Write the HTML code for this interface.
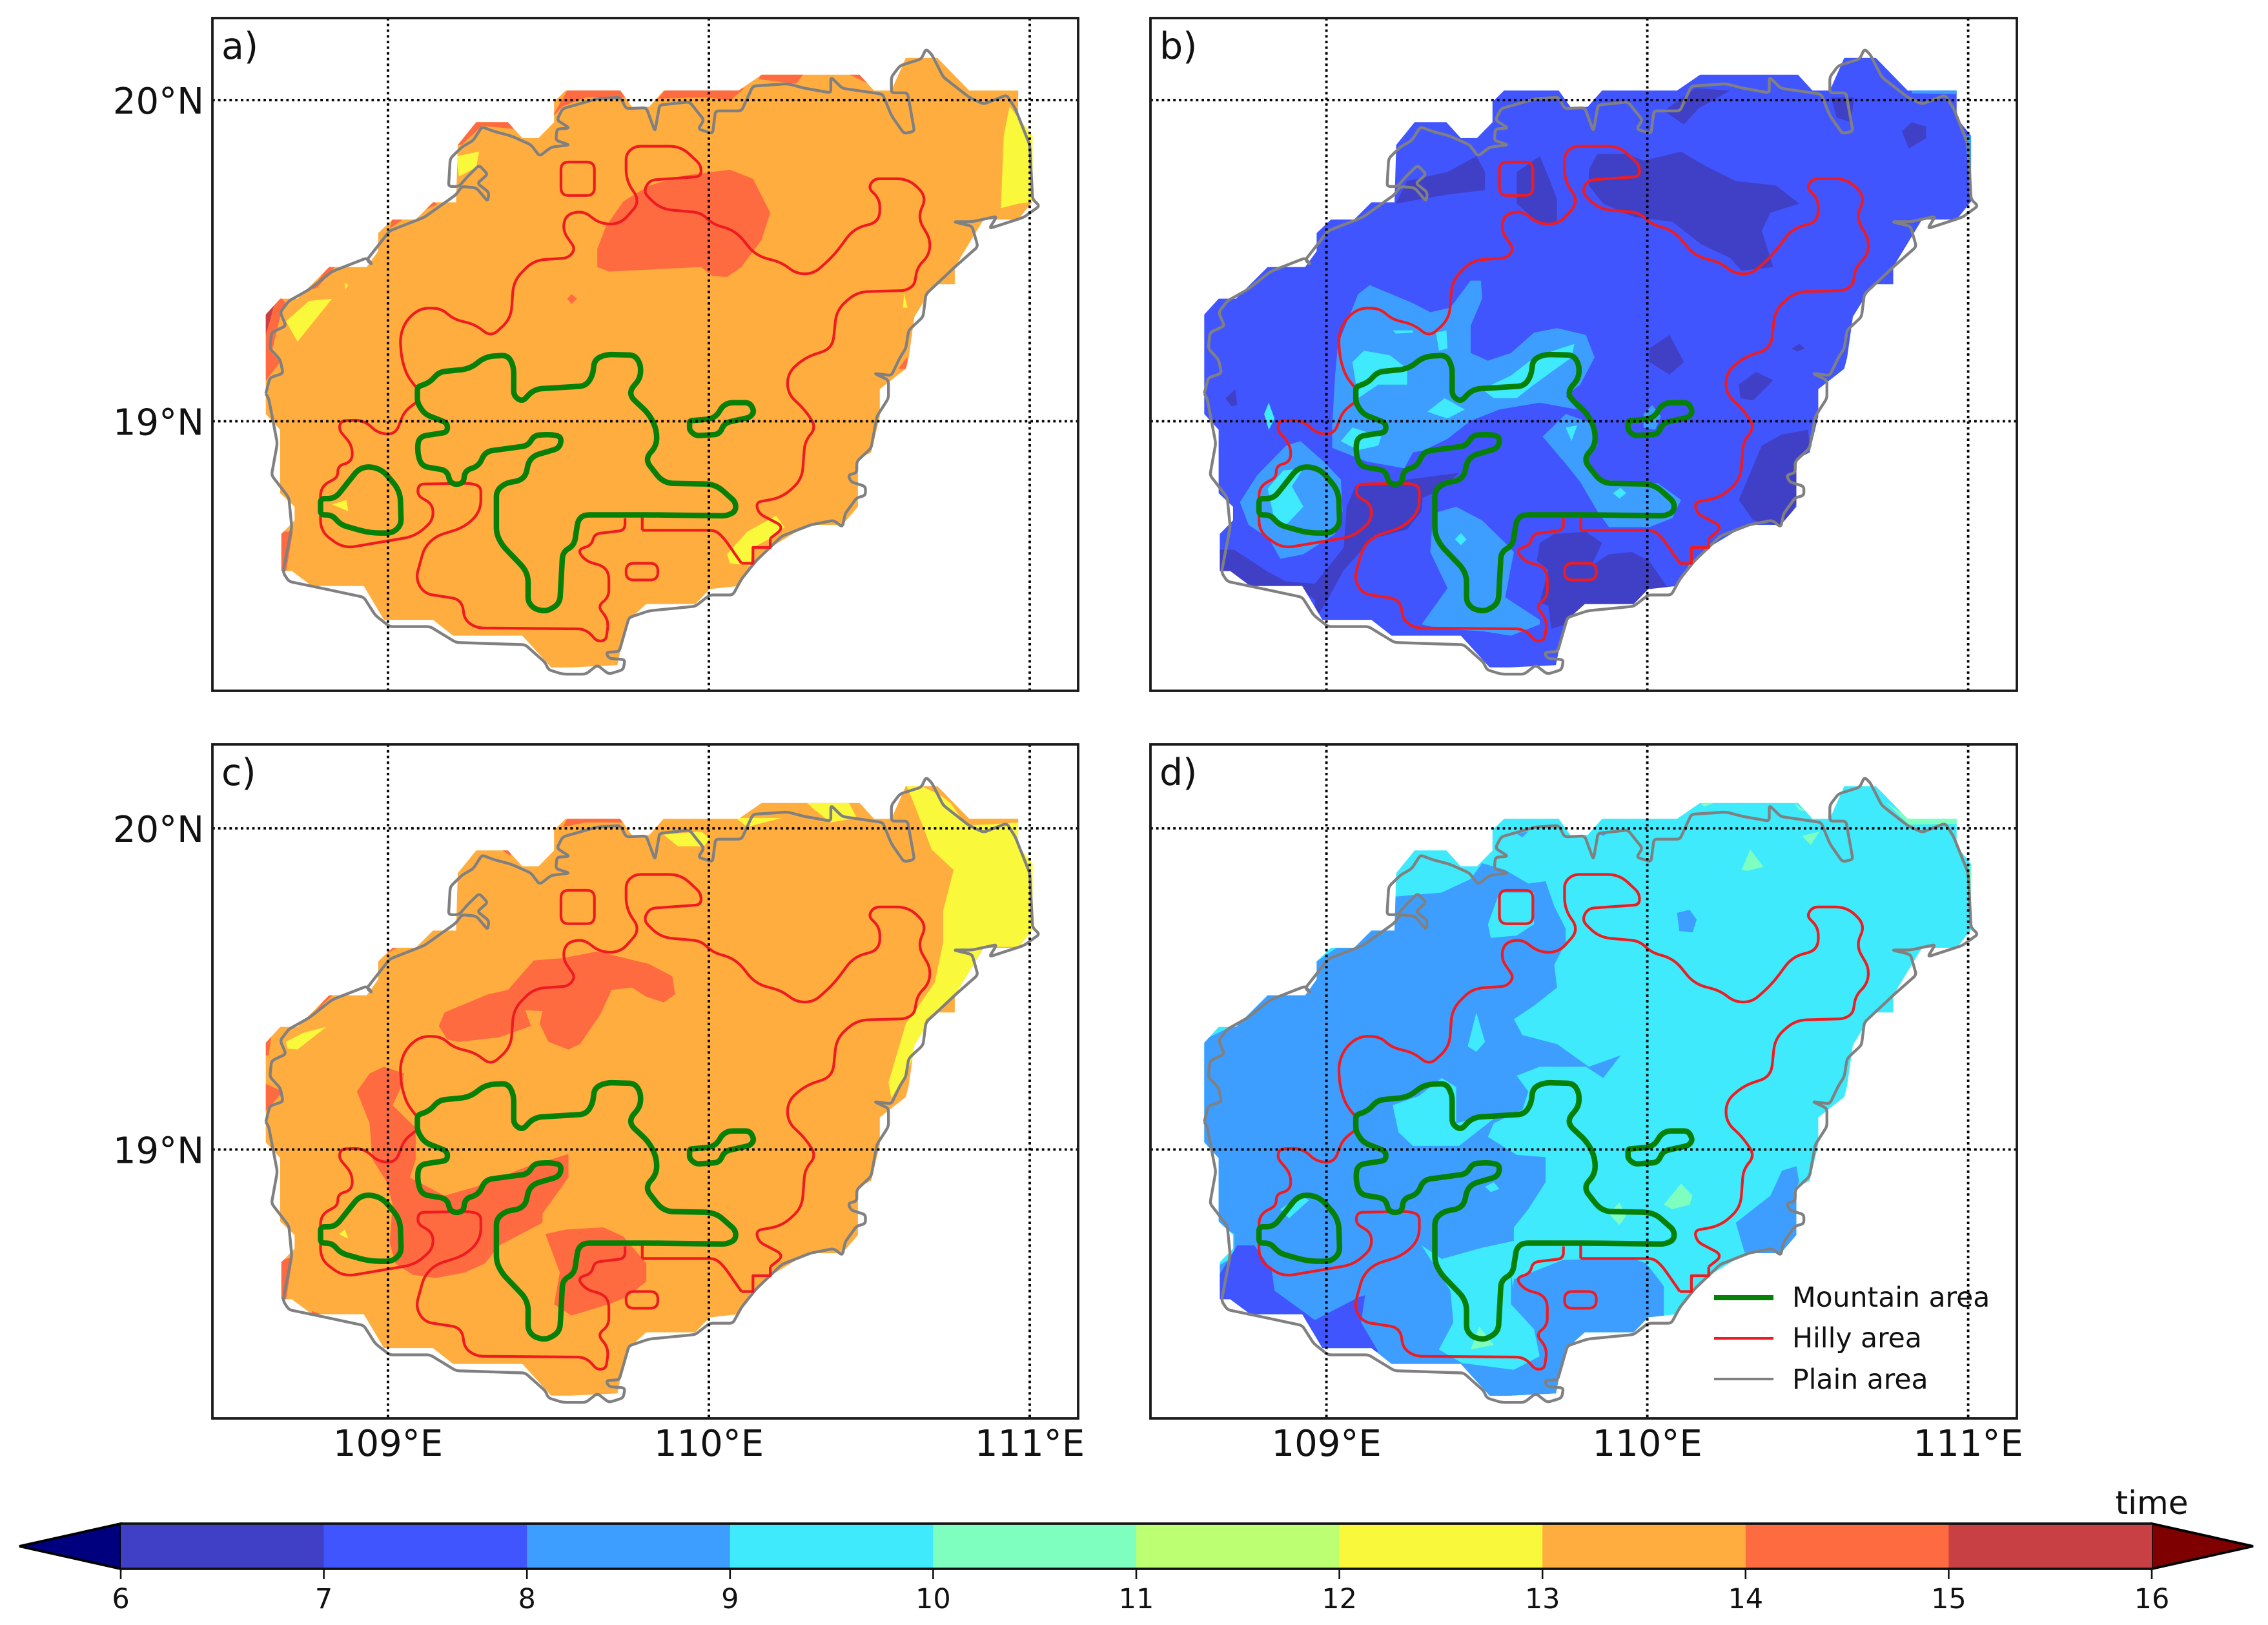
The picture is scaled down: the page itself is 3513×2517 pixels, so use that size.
<!DOCTYPE html>
<html lang="en">
<head>
<meta charset="utf-8">
<title>Hainan time maps</title>
<style>
html,body{margin:0;padding:0;background:#fff;}
svg{display:block;}
text{font-family:"DejaVu Sans","Liberation Sans",sans-serif;fill:#111;}
</style>
</head>
<body>
<svg id="figure" xmlns="http://www.w3.org/2000/svg" width="3513" height="2517" viewBox="0 0 3513 2517">
  <g id="panels"></g>
  <g id="colorbar"></g>
  <g id="legend">
    <line x1="2655" x2="2747" y1="2010" y2="2010" stroke="#078007" stroke-width="8"/>
    <text x="2776" y="2024" font-size="42.5">Mountain area</text>
    <line x1="2655" x2="2747" y1="2073" y2="2073" stroke="#ee1c20" stroke-width="4"/>
    <text x="2776" y="2087" font-size="42.5">Hilly area</text>
    <line x1="2655" x2="2747" y1="2136" y2="2136" stroke="#808080" stroke-width="4"/>
    <text x="2776" y="2151" font-size="42.5">Plain area</text>
  </g>
</svg>
<script>
/* ---------- axis data ---------- */
const lonTicks = [109, 110, 111];
const latTicks = [19, 20];
const lonTickLabels = ['109°E', '110°E', '111°E'];
const latTickLabels = ['19°N', '20°N'];

/* ---------- colour scale ---------- */
const levels = [6, 7, 8, 9, 10, 11, 12, 13, 14, 15, 16];
const levelColors = ['#4040C6', '#4155FF', '#3E9EFF', '#3EEAFB', '#7FFFBF', '#BDFF73', '#FAF83A', '#FFAD3F', '#FF6B40', '#C84043'];
const underColor = '#00007F';
const overColor = '#7F0000';
const colorbarTitle = 'time';

/* ---------- digitised outlines: map grid cells (556.5 cells/deg lon, 710 cells/deg lat) ---------- */
const landOutline = [[645,200],[740,200],[760,236],[790,236],[815,200],[945,200],[985,165],[1155,165],[1180,200],[1210,200],[1235,128],[1290,128],[1345,200],[1430,200],[1430,260],[1455,300],[1455,445],[1430,485],[1370,485],[1320,590],[1320,628],[1285,628],[1250,700],[1240,790],[1235,815],[1190,860],[1190,920],[1175,1000],[1152,1015],[1152,1120],[1125,1160],[1065,1160],[1000,1210],[965,1250],[945,1295],[895,1302],[870,1335],[785,1335],[750,1375],[735,1470],[655,1475],[620,1475],[570,1405],[450,1405],[415,1370],[330,1370],[295,1295],[205,1295],[170,1262],[152,1262],[152,1180],[175,1150],[175,1120],[150,1090],[150,950],[125,915],[125,695],[150,660],[180,660],[235,590],[300,590],[320,555],[320,515],[345,485],[385,485],[415,447],[455,447],[458,320],[490,270],[545,270],[570,305],[598,305],[625,270],[625,225]];
const coastOutline = [[125,870],[132,835],[155,825],[150,795],[132,770],[135,735],[160,720],[150,690],[165,665],[200,640],[240,600],[300,570],[310,585],[300,575],[340,510],[400,480],[455,430],[465,412],[490,415],[510,445],[512,425],[492,405],[510,385],[495,365],[475,390],[460,412],[442,412],[445,350],[465,325],[485,310],[500,280],[520,290],[550,300],[585,320],[600,345],[620,325],[652,320],[628,310],[630,285],[652,283],[630,265],[640,240],[700,218],[740,215],[750,240],[785,238],[800,290],[808,232],[860,225],[885,265],[875,285],[900,295],[905,245],[950,245],[970,190],[1030,185],[1060,195],[1105,205],[1105,170],[1125,195],[1195,208],[1210,255],[1232,295],[1250,290],[1238,205],[1210,205],[1210,170],[1225,145],[1262,130],[1270,108],[1280,120],[1300,170],[1345,215],[1370,230],[1410,210],[1425,240],[1450,320],[1455,440],[1467,455],[1440,480],[1380,505],[1393,478],[1350,490],[1318,490],[1350,500],[1360,545],[1320,590],[1270,650],[1265,700],[1240,730],[1235,770],[1225,790],[1210,830],[1180,825],[1205,840],[1205,880],[1185,920],[1175,990],[1150,1020],[1150,1045],[1135,1050],[1140,1065],[1165,1075],[1165,1095],[1150,1100],[1130,1135],[1125,1165],[1110,1150],[1070,1160],[1020,1185],[975,1240],[950,1280],[935,1315],[895,1315],[870,1340],[790,1350],[755,1365],[738,1440],[715,1442],[720,1455],[748,1458],[745,1480],[720,1490],[700,1470],[680,1490],[640,1490],[615,1480],[610,1465],[575,1425],[455,1420],[410,1385],[340,1385],[315,1360],[295,1320],[240,1305],[165,1285],[155,1265],[170,1165],[165,1100],[135,1050],[145,980],[130,880],[125,870]];
const hillyMain = [[385,855],[370,830],[360,790],[358,740],[370,705],[395,680],[430,682],[450,705],[490,718],[515,745],[550,705],[555,620],[590,575],[650,570],[662,550],[640,510],[645,475],[675,465],[705,495],[740,495],[775,445],[750,400],[750,340],[765,323],[845,323],[880,365],[880,390],[790,398],[780,425],[810,462],[880,470],[900,495],[940,510],[975,565],[1020,580],[1045,605],[1075,605],[1110,565],[1145,505],[1190,490],[1190,440],[1170,415],[1180,395],[1240,395],[1272,435],[1255,480],[1278,530],[1275,565],[1255,590],[1250,630],[1235,642],[1150,645],[1115,685],[1108,770],[1060,790],[1030,825],[1030,870],[1060,905],[1080,945],[1060,975],[1055,1060],[1020,1100],[975,1110],[980,1135],[1025,1165],[1000,1190]];
const hillyStair = [[1000,1190],[1000,1210],[970,1210],[970,1245],[950,1245]];
const hillyEast = [[950,1245],[920,1190],[905,1172],[778,1172]];
const hillyStubA = [[778,1172],[778,1140]];
const hillySouth = [[748,1145],[748,1172],[695,1180],[690,1205],[665,1215],[680,1240],[720,1255],[720,1320],[700,1340],[720,1370],[715,1415],[700,1418],[680,1390],[490,1388],[470,1370],[465,1325],[400,1312],[385,1280],[400,1210],[420,1185],[470,1165],[498,1130],[498,1075],[480,1068],[390,1070],[388,1095],[415,1115],[415,1150],[385,1185],[260,1212],[220,1175],[220,1075],[250,1055],[250,1030],[275,1020],[275,985],[252,950],[255,930],[295,928],[320,958],[350,960],[365,910],[385,890]];
const hillySquare = [[666,358],[695,358],[695,432],[637,432],[637,358],[666,358]];
const hillySmall = [[778,1245],[805,1245],[805,1282],[750,1282],[750,1245],[778,1245]];
const mountainMain = [[388,870],[388,855],[410,845],[425,822],[480,815],[505,788],[545,785],[555,810],[555,875],[570,888],[590,860],[680,853],[692,830],[695,795],[715,783],[765,785],[775,805],[775,835],[752,870],[790,915],[803,950],[803,985],[782,1015],[815,1068],[905,1070],[940,1110],[940,1130],[925,1140],[800,1138],[668,1138],[660,1205],[640,1220],[635,1335],[610,1352],[590,1345],[580,1330],[580,1265],[535,1205],[525,1180],[525,1085],[540,1068],[575,1060],[582,1010],[635,990],[638,965],[620,960],[590,962],[580,985],[505,998],[495,1030],[470,1040],[468,1070],[445,1070],[440,1040],[395,1030],[388,1000],[390,965],[440,955],[440,935],[400,915],[388,890],[388,870]];
const mountainWest = [[220,1120],[220,1102],[245,1102],[265,1070],[290,1030],[325,1035],[358,1085],[360,1160],[345,1178],[305,1178],[255,1160],[240,1138],[220,1138],[220,1120]];
const mountainEast = [[860,940],[860,930],[905,925],[920,890],[965,890],[972,910],[965,922],[920,935],[912,960],[870,963],[860,950],[860,940]];

/* ---------- filled contour zones per panel: band value + digitised ring ---------- */
const zonesA = [
  {band:14, ring:[[700,590],[700,550],[715,500],[745,445],[790,410],[850,388],[930,375],[970,395],[1000,470],[985,530],[950,590],[925,612],[900,610],[880,590],[800,595],[720,600]]},
  {band:14, ring:[[620,262],[650,195],[740,195],[755,215],[680,215],[640,235]]},
  {band:14, ring:[[805,218],[820,195],[955,195],[930,222],[890,215]]},
  {band:14, ring:[[980,175],[985,160],[1060,160],[1045,185]]},
  {band:14, ring:[[1130,160],[1160,160],[1170,185]]},
  {band:14, ring:[[455,320],[490,265],[545,265],[555,285],[500,278],[465,320]]},
  {band:14, ring:[[120,850],[120,695],[150,655],[160,670],[150,700],[135,780],[150,800]]},
  {band:15, ring:[[120,760],[120,695],[140,670],[132,710]]},
  {band:14, ring:[[205,640],[235,585],[248,585],[215,635]]},
  {band:14, ring:[[340,505],[345,480],[368,480]]},
  {band:14, ring:[[390,470],[415,442],[422,452]]},
  {band:14, ring:[[148,1265],[148,1175],[172,1175],[160,1265]]},
  {band:14, ring:[[1238,815],[1238,788],[1222,815]]},
  {band:14, ring:[[648,660],[655,650],[665,660],[655,672]]},
  {band:12, ring:[[455,345],[495,335],[490,370],[460,390]]},
  {band:12, ring:[[160,710],[200,665],[240,660],[180,755]]},
  {band:12, ring:[[1400,460],[1405,300],[1415,235],[1430,260],[1460,300],[1460,445],[1430,450]]},
  {band:12, ring:[[925,1225],[960,1175],[1010,1140],[1025,1165],[1000,1190],[970,1210],[965,1250],[930,1245]]},
  {band:12, ring:[[240,1115],[265,1105],[268,1130]]},
  {band:12, ring:[[1232,648],[1238,680],[1230,680]]},
  {band:12, ring:[[262,625],[268,630],[263,640]]}
];
const zonesB = [
  {band:8, ring:[[340,940],[345,830],[350,760],[385,650],[405,630],[480,670],[510,690],[545,680],[580,620],[598,620],[600,660],[580,720],[580,780],[610,797],[650,780],[690,735],[730,725],[780,740],[795,790],[770,850],[745,875],[765,905],[700,890],[630,905],[580,930],[540,970],[500,995],[480,1000],[465,1035],[400,1020],[380,1010],[340,990]]},
  {band:8, ring:[[705,965],[745,915],[790,935],[800,985],[775,1020],[800,1060],[905,1068],[945,1105],[930,1145],[890,1165],[820,1165],[800,1130],[770,1065],[745,1025]]},
  {band:8, ring:[[180,1110],[210,1050],[260,985],[285,975],[325,1020],[355,1060],[358,1130],[345,1180],[290,1225],[250,1235],[230,1190],[195,1160]]},
  {band:8, ring:[[495,1380],[540,1300],[510,1220],[515,1135],[555,1120],[600,1150],[640,1200],[655,1220],[640,1320],[700,1370],[700,1380],[650,1405],[600,1395],[530,1390]]},
  {band:8, ring:[[880,915],[895,895],[910,920],[900,950],[880,945]]},
  {band:9, ring:[[375,800],[395,775],[440,785],[470,815],[470,850],[420,850],[385,880]]},
  {band:9, ring:[[600,860],[650,830],[680,800],[700,785],[760,760],[755,790],[690,850],[660,880],[620,880]]},
  {band:9, ring:[[505,910],[535,880],[570,905],[540,925]]},
  {band:9, ring:[[355,975],[375,945],[425,965],[420,985],[385,995]]},
  {band:9, ring:[[445,730],[480,730],[480,735],[450,737]]},
  {band:9, ring:[[520,735],[538,730],[540,770],[525,775]]},
  {band:9, ring:[[222,915],[230,890],[240,925],[230,950]]},
  {band:9, ring:[[228,1080],[255,1040],[290,1035],[270,1075],[290,1120],[260,1160],[240,1150]]},
  {band:9, ring:[[745,945],[765,940],[755,975]]},
  {band:9, ring:[[827,1090],[840,1078],[850,1090],[838,1102]]},
  {band:9, ring:[[553,1192],[563,1178],[573,1192],[563,1205]]},
  {band:8, ring:[[1438,300],[1460,300],[1460,440],[1447,440]]},
  {band:8, ring:[[1345,200],[1425,196],[1428,208],[1345,206]]},
  {band:6, ring:[[785,375],[800,340],[850,340],[880,355],[945,335],[985,365],[1040,400],[1110,410],[1150,450],[1100,470],[1085,510],[1105,590],[1050,598],[1030,570],[980,540],[930,490],[865,480],[810,450],[785,410]]},
  {band:6, ring:[[660,380],[700,345],[715,390],[730,440],[730,490],[700,495],[660,450]]},
  {band:6, ring:[[450,450],[470,400],[540,380],[590,345],[605,380],[605,420],[540,430]]},
  {band:6, ring:[[915,245],[970,195],[1030,200],[975,240],[950,275]]},
  {band:6, ring:[[1205,215],[1245,215],[1240,270],[1215,260]]},
  {band:6, ring:[[1328,290],[1345,270],[1370,280],[1370,305],[1340,328]]},
  {band:6, ring:[[1137,770],[1150,760],[1160,770],[1147,777]]},
  {band:6, ring:[[890,770],[925,740],[950,800],[925,828],[890,800]]},
  {band:6, ring:[[1045,850],[1075,822],[1105,840],[1070,885],[1048,880]]},
  {band:6, ring:[[155,880],[172,860],[175,895],[165,898]]},
  {band:6, ring:[[1050,1090],[1085,985],[1120,960],[1165,950],[1168,985],[1145,1020],[1150,1100],[1125,1165],[1070,1150],[1045,1105]]},
  {band:6, ring:[[365,1120],[380,1075],[435,1070],[470,1060],[560,1045],[525,1085],[497,1100],[495,1130],[470,1170],[410,1190],[360,1260],[330,1330],[310,1370],[310,1325],[280,1300],[200,1300],[140,1270],[140,1215],[170,1215],[230,1265],[260,1285],[310,1290],[360,1210]]},
  {band:6, ring:[[700,1200],[725,1180],[780,1175],[808,1200],[790,1250],[820,1225],[860,1220],[890,1240],[925,1305],[885,1305],[860,1340],[780,1345],[745,1380],[720,1390],[715,1340],[700,1330],[715,1260],[695,1240]]}
];
const zonesC = [
  {band:14, ring:[[425,655],[435,625],[510,585],[545,575],[590,510],[640,505],[700,490],[790,518],[830,545],[835,585],[815,603],[785,590],[760,570],[725,575],[705,630],[670,695],[650,707],[615,690],[600,650],[605,622],[575,620],[585,655],[530,680],[460,690],[440,685]]},
  {band:14, ring:[[283,800],[305,760],[330,745],[365,760],[360,790],[345,830],[385,880],[385,950],[375,990],[435,1030],[490,1010],[580,965],[650,938],[650,990],[605,1070],[605,1090],[530,1140],[505,1180],[470,1200],[420,1212],[380,1205],[350,1180],[340,1135],[345,1050],[335,1000],[310,950],[305,870]]},
  {band:14, ring:[[610,1115],[645,1105],[710,1100],[745,1120],[785,1180],[785,1220],[750,1255],[720,1270],[655,1295],[625,1270],[635,1200]]},
  {band:14, ring:[[120,780],[155,800],[120,850]]},
  {band:14, ring:[[120,720],[120,690],[135,675],[130,720]]},
  {band:14, ring:[[640,215],[650,192],[735,192],[745,205],[680,205]]},
  {band:14, ring:[[148,1262],[148,1175],[172,1165],[160,1262]]},
  {band:14, ring:[[205,1285],[222,1292],[205,1295]]},
  {band:14, ring:[[530,262],[548,262],[550,280]]},
  {band:14, ring:[[335,495],[340,478],[358,478]]},
  {band:14, ring:[[210,625],[235,582],[245,582]]},
  {band:12, ring:[[1235,120],[1255,120],[1295,145],[1345,194],[1435,194],[1435,255],[1460,300],[1460,440],[1430,480],[1370,480],[1320,590],[1270,640],[1260,690],[1235,760],[1210,815],[1205,780],[1235,650],[1285,560],[1300,470],[1300,400],[1318,310],[1280,265],[1265,215],[1245,150]]},
  {band:13, ring:[[1295,130],[1350,190],[1435,190],[1435,205],[1340,212]]},
  {band:12, ring:[[160,690],[190,670],[230,657],[180,707],[163,705]]},
  {band:12, ring:[[815,232],[880,225],[895,240],[885,258],[840,258]]},
  {band:12, ring:[[940,195],[1020,195],[960,215]]},
  {band:12, ring:[[1060,158],[1135,158],[1150,195],[1105,205],[1075,175]]},
  {band:12, ring:[[252,1115],[262,1105],[268,1125]]}
];
const zonesD = [
  {band:8, ring:[[110,690],[175,650],[225,580],[280,580],[310,515],[350,480],[375,445],[440,370],[530,360],[580,330],[600,295],[640,310],[680,340],[710,335],[725,390],[745,440],[745,470],[725,520],[730,570],[690,610],[655,640],[670,675],[730,695],[785,745],[840,720],[810,770],[780,745],[700,745],[660,765],[680,800],[670,840],[620,870],[610,900],[660,940],[710,945],[710,1000],[680,1060],[655,1100],[655,1130],[650,1200],[660,1300],[720,1400],[735,1490],[620,1490],[565,1410],[450,1410],[415,1380],[310,1380],[285,1305],[200,1305],[135,1270],[135,1190],[170,1165],[170,1115],[135,1085],[135,945],[110,910]]},
  {band:9, ring:[[445,830],[490,810],[530,770],[555,790],[555,870],[585,860],[620,860],[560,920],[480,920],[455,890]]},
  {band:9, ring:[[575,700],[590,625],[605,690],[590,712]]},
  {band:9, ring:[[610,430],[630,360],[690,360],[690,430],[660,455],[615,460]]},
  {band:9, ring:[[250,1060],[285,1030],[300,1040],[265,1080]]},
  {band:9, ring:[[605,1010],[620,1000],[630,1015],[615,1022]]},
  {band:9, ring:[[655,1130],[600,1145],[530,1170],[495,1140],[545,1240],[550,1310],[525,1370],[565,1400],[655,1415],[700,1385],[690,1325],[650,1270],[650,1210]]},
  {band:8, ring:[[655,1215],[740,1172],[860,1168],[885,1180],[915,1230],[915,1305],[885,1305],[860,1345],[780,1345],[745,1380],[730,1490],[620,1490],[565,1405],[655,1415],[700,1385],[690,1325],[650,1270]]},
  {band:8, ring:[[1040,1090],[1100,1030],[1120,975],[1145,965],[1150,1000],[1140,1020],[1160,1100],[1130,1170],[1055,1155]]},
  {band:8, ring:[[938,405],[960,398],[972,420],[965,448],[942,445]]},
  {band:7, ring:[[135,1225],[175,1140],[205,1140],[235,1195],[240,1240],[310,1305],[385,1255],[397,1250],[390,1310],[420,1375],[312,1375],[285,1305],[200,1305],[135,1270]]},
  {band:10, ring:[[1050,310],[1065,265],[1088,303],[1060,312]]},
  {band:10, ring:[[1155,235],[1185,225],[1170,255]]},
  {band:10, ring:[[915,1050],[945,1003],[965,1030],[960,1050],[930,1060]]},
  {band:10, ring:[[820,1070],[838,1045],[850,1075],[838,1095]]},
  {band:10, ring:[[580,1370],[595,1320],[620,1360]]},
  {band:10, ring:[[1300,160],[1340,195],[1430,193],[1430,208],[1340,210]]},
  {band:10, ring:[[975,158],[1010,158],[985,170]]},
  {band:10, ring:[[1140,160],[1160,180],[1150,178]]},
  {band:10, ring:[[1445,300],[1455,300],[1455,370],[1447,370]]},
  {band:8, ring:[[660,230],[680,225],[670,238]]},
  {band:8, ring:[[800,228],[818,228],[810,235]]},
  {band:8, ring:[[495,1330],[510,1330],[500,1335]]}
];

/* ---------- panel layout ---------- */
const panels = [
  {id:'a', label:'a)', base:13, zones:zonesA, left:329,  right:1670, top:28,   bottom:1070, x109:601,    y20:155,  zoneCol:337, zoneRow:221, latLabels:true,  lonLabels:false},
  {id:'b', label:'b)', base:7,  zones:zonesB, left:1782, right:3124, top:28,   bottom:1070, x109:2054.6, y20:155,  zoneCol:330, zoneRow:221, latLabels:false, lonLabels:false},
  {id:'c', label:'c)', base:13, zones:zonesC, left:329,  right:1670, top:1153, bottom:2197, x109:601,    y20:1283, zoneCol:337, zoneRow:218, latLabels:true,  lonLabels:true},
  {id:'d', label:'d)', base:9,  zones:zonesD, left:1782, right:3124, top:1153, bottom:2197, x109:2054.6, y20:1283, zoneCol:330, zoneRow:218, latLabels:false, lonLabels:true}
];

/* ---------- axis functions ---------- */
const SVGNS = 'http://www.w3.org/2000/svg';
const PX_PER_LON = 497;
const PX_PER_LAT = 497.5;
function xScale(p, lon){ return p.x109 + (lon - 109) * PX_PER_LON; }
function yScale(p, lat){ return p.y20 + (20 - lat) * PX_PER_LAT; }
function lonOf(col, col109){ return 109 + (col - col109) / 556.5; }
function latOf(row, row20){ return 20 - (row - row20) / 710; }
function cbX(v){ return 187 + (v - levels[0]) * 314.6; }
function bandColor(v){ return levelColors[levels.indexOf(v)]; }

function project(p, ring, col109, row20){
  return ring.map(function(c){
    return [xScale(p, lonOf(c[0], col109)), yScale(p, latOf(c[1], row20))];
  });
}
function polyPath(pts){
  return 'M' + pts.map(function(q){ return q[0].toFixed(1) + ' ' + q[1].toFixed(1); }).join('L') + 'Z';
}
/* polyline with corners rounded by at most `radius` px */
function roundedPath(pts, radius){
  let d = 'M' + pts[0][0].toFixed(1) + ' ' + pts[0][1].toFixed(1);
  for (let i = 1; i < pts.length - 1; i++) {
    const a = pts[i - 1], b = pts[i], c = pts[i + 1];
    const l1 = Math.hypot(b[0] - a[0], b[1] - a[1]);
    const l2 = Math.hypot(c[0] - b[0], c[1] - b[1]);
    const r = Math.min(radius, l1 / 2, l2 / 2);
    const sx = b[0] - (b[0] - a[0]) / l1 * r, sy = b[1] - (b[1] - a[1]) / l1 * r;
    const ex = b[0] + (c[0] - b[0]) / l2 * r, ey = b[1] + (c[1] - b[1]) / l2 * r;
    d += 'L' + sx.toFixed(1) + ' ' + sy.toFixed(1) + 'Q' + b[0].toFixed(1) + ' ' + b[1].toFixed(1) + ' ' + ex.toFixed(1) + ' ' + ey.toFixed(1);
  }
  const last = pts[pts.length - 1];
  d += 'L' + last[0].toFixed(1) + ' ' + last[1].toFixed(1);
  return d;
}
function make(tag, parent, attrs){
  const el = document.createElementNS(SVGNS, tag);
  for (const k in attrs) { el.setAttribute(k, attrs[k]); }
  parent.appendChild(el);
  return el;
}

/* ---------- draw panels ---------- */
const panelsRoot = document.getElementById('panels');
panels.forEach(function(p){
  const g = make('g', panelsRoot, {});
  
  

  const landPts = project(p, landOutline, 337, 221);
  const clip = make('clipPath', g, {id:'land-clip-' + p.id});
  
  
  make('path', clip, {d:polyPath(landPts)});

  const land = make('path', g, {d:polyPath(landPts), fill:bandColor(p.base)});
  
  

  const zoneGroup = make('g', g, {'clip-path':'url(#land-clip-' + p.id + ')'});
  
  
  p.zones.forEach(function(z){
    const pts = project(p, z.ring, p.zoneCol, p.zoneRow);
    const zone = make('path', zoneGroup, {d:polyPath(pts), fill:bandColor(z.band)});
    
    
  });

  const coast = make('path', g, {d:roundedPath(project(p, coastOutline, 337, 221), 5), fill:'none', stroke:'#808080', 'stroke-width':4.4, 'stroke-linejoin':'round'});
  
  

  [[hillyMain, 18], [hillyStair, 0], [hillyEast, 14], [hillyStubA, 0], [hillySouth, 18], [hillySquare, 12], [hillySmall, 12]].forEach(function(entry){
    const hilly = make('path', g, {d:roundedPath(project(p, entry[0], 337, 221), entry[1]), fill:'none', stroke:'#ee1c20', 'stroke-width':4.2, 'stroke-linejoin':'round'});
    
    
  });

  [mountainMain, mountainWest, mountainEast].forEach(function(r){
    const mountain = make('path', g, {d:roundedPath(project(p, r, 337, 221), 16), fill:'none', stroke:'#078007', 'stroke-width':8.5, 'stroke-linejoin':'round'});
    
    
  });

  lonTicks.forEach(function(lon, i){
    const x = xScale(p, lon);
    const gl = make('line', g, {x1:x, x2:x, y1:p.top, y2:p.bottom, stroke:'#000', 'stroke-width':3.8, 'stroke-dasharray':'3.8 5'});
    
    
    if (p.lonLabels) {
      const t = make('text', g, {x:x, y:2255, 'font-size':56, 'text-anchor':'middle'});
      
      
      t.textContent = lonTickLabels[i];
    }
  });
  latTicks.forEach(function(lat, i){
    const y = yScale(p, lat);
    const gl = make('line', g, {x1:p.left, x2:p.right, y1:y, y2:y, stroke:'#000', 'stroke-width':3.8, 'stroke-dasharray':'3.8 5'});
    
    
    if (p.latLabels) {
      const t = make('text', g, {x:316, y:y + 21, 'font-size':56, 'text-anchor':'end'});
      
      
      t.textContent = latTickLabels[i];
    }
  });

  const frame = make('rect', g, {x:p.left, y:p.top, width:p.right - p.left, height:p.bottom - p.top, fill:'none', stroke:'#1a1a1a', 'stroke-width':3.8});
  
  

  const lab = make('text', g, {x:p.left + 14, y:p.top + 63, 'font-size':57});
  
  
  lab.textContent = p.label;
});

/* ---------- draw colorbar ---------- */
const cb = document.getElementById('colorbar');
const cbTop = 2360, cbBottom = 2430, cbMid = 2395, cbArrow = 157;
const x0 = cbX(levels[0]), x1 = cbX(levels[levels.length - 1]);

const under = make('polygon', cb, {points:(x0 - cbArrow) + ',' + cbMid + ' ' + x0 + ',' + cbTop + ' ' + x0 + ',' + cbBottom, fill:underColor, stroke:'#000', 'stroke-width':3.8, 'stroke-linejoin':'miter'});



const over = make('polygon', cb, {points:(x1 + cbArrow) + ',' + cbMid + ' ' + x1 + ',' + cbTop + ' ' + x1 + ',' + cbBottom, fill:overColor, stroke:'#000', 'stroke-width':3.8, 'stroke-linejoin':'miter'});



levelColors.forEach(function(c, i){
  const r = make('rect', cb, {x:cbX(levels[i]), y:cbTop, width:cbX(levels[i + 1]) - cbX(levels[i]) + 0.5, height:cbBottom - cbTop, fill:c});
  
  
});

const cbEdgeTop = make('line', cb, {x1:x0, x2:x1, y1:cbTop, y2:cbTop, stroke:'#111', 'stroke-width':3.8});



const cbEdgeBottom = make('line', cb, {x1:x0, x2:x1, y1:cbBottom, y2:cbBottom, stroke:'#111', 'stroke-width':3.8});



levels.forEach(function(v){
  const x = cbX(v);
  const tick = make('line', cb, {x1:x, x2:x, y1:cbBottom, y2:2446, stroke:'#111', 'stroke-width':2.6});
  
  
  const t = make('text', cb, {x:x, y:2491, 'font-size':43, 'text-anchor':'middle'});
  
  
  t.textContent = String(v);
});

const cbLabel = make('text', cb, {x:x1, y:2345, 'font-size':50, 'text-anchor':'middle'});


cbLabel.textContent = colorbarTitle;
</script>
</body>
</html>
